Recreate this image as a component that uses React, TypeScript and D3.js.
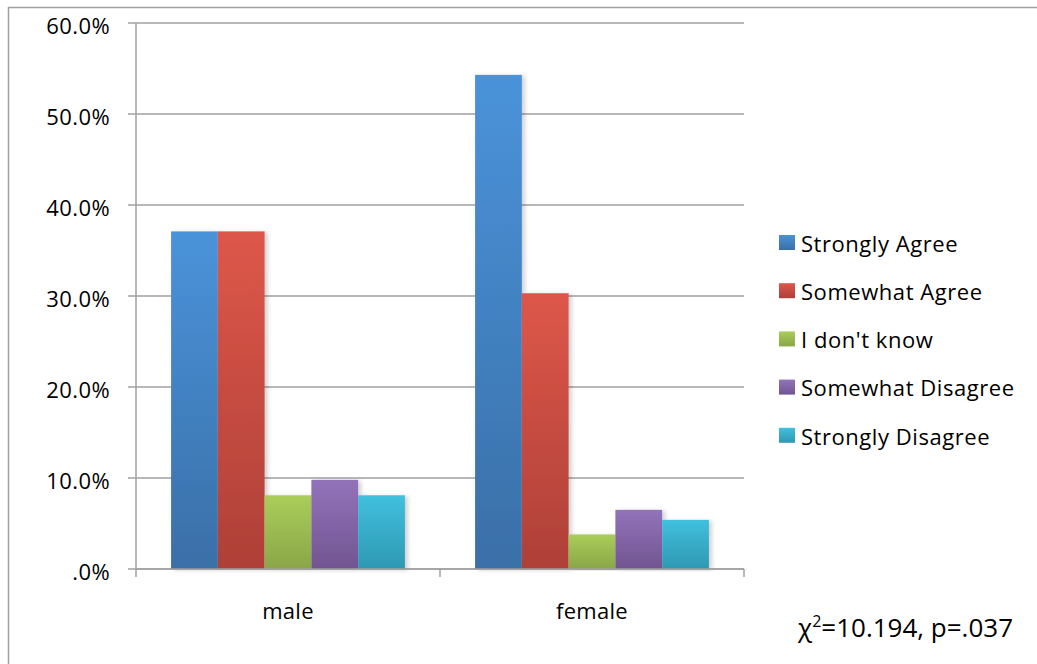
import React from "react";
import * as d3 from "d3";

const categories = ["male", "female"];
const seriesNames = ["Strongly Agree", "Somewhat Agree", "I don't know", "Somewhat Disagree", "Strongly Disagree"];
const maleValues = [37.1, 37.1, 8.1, 9.8, 8.1];
const femaleValues = [54.3, 30.3, 3.8, 6.5, 5.4];
const yTicks = [0, 10, 20, 30, 40, 50, 60];
const topColors = ["#4A93DA", "#DD5749", "#AACD5A", "#9273BA", "#40C0DE"];
const bottomColors = ["#3A6FA7", "#AE4038", "#8AA647", "#715591", "#2E98B2"];

const valuesByCategory = [maleValues, femaleValues];

const W = 1037;
const H = 664;
const plotLeft = 136;
const plotRight = 744;
const plotTop = 23;
const plotBottom = 569;
const FONT = "'Open Sans', Lato, sans-serif";

export default function App() {
  const y = d3.scaleLinear().domain([0, 60]).range([plotBottom, plotTop]);
  const x0 = d3.scaleBand().domain(categories).range([plotLeft, plotRight]).paddingInner(0).paddingOuter(0);
  const bw = x0.bandwidth() / (seriesNames.length + 1.5);
  const x1 = d3
    .scaleBand()
    .domain(seriesNames)
    .range([bw * 0.75, x0.bandwidth() - bw * 0.75])
    .padding(0);

  return (
    <svg width={W} height={H} style={{ position: "absolute", left: 0, top: 0 }}>
      <defs>
        {seriesNames.map((s, i) => (
          <linearGradient key={s} id={`g${i}`} x1="0" y1="0" x2="0" y2="1">
            <stop offset="0%" stopColor={topColors[i]} />
            <stop offset="100%" stopColor={bottomColors[i]} />
          </linearGradient>
        ))}
        <filter id="shadow" x="-20%" y="-5%" width="150%" height="110%">
          <feDropShadow dx="3" dy="1" stdDeviation="2" floodColor="#000" floodOpacity="0.18" />
        </filter>
      </defs>
      <rect x={0} y={0} width={W} height={H} fill="#fff" />
      {/* outer frame */}
      <line x1={8} y1={7.5} x2={W} y2={7.5} stroke="#a0a0a0" strokeWidth={1.5} />
      <line x1={8.5} y1={7} x2={8.5} y2={H} stroke="#a0a0a0" strokeWidth={1.5} />

      {/* gridlines */}
      {yTicks.map((t) => (
        <g key={t}>
          <line x1={plotLeft - 8} x2={plotRight} y1={y(t)} y2={y(t)} stroke="#a0a0a0" strokeWidth={1.5} />
          <text
            x={110}
            y={y(t) + 3}
            dy="0.35em"
            textAnchor="end"
            fontFamily={FONT}
            fontSize={22}
            letterSpacing={0.4}
            fill="#000"
          >
            {t === 0 ? ".0%" : `${t.toFixed(1)}%`}
          </text>
        </g>
      ))}
      {/* y axis */}
      <line x1={plotLeft} x2={plotLeft} y1={plotTop} y2={plotBottom + 8} stroke="#a0a0a0" strokeWidth={1.5} />
      {/* x category ticks */}
      {[plotLeft + x0.bandwidth(), plotRight].map((xx, i) => (
        <line key={i} x1={xx} x2={xx} y1={plotBottom} y2={plotBottom + 8} stroke="#a0a0a0" strokeWidth={1.5} />
      ))}

      {/* bars */}
      {categories.map((c, ci) => (
        <g key={c} transform={`translate(${x0(c)},0)`}>
          {seriesNames.map((s, si) => {
            const v = valuesByCategory[ci][si];
            return (
              <rect
                key={s}
                x={x1(s)}
                y={y(v)}
                width={x1.bandwidth()}
                height={y(0) - y(v)}
                fill={`url(#g${si})`}
                filter="url(#shadow)"
              />
            );
          })}
        </g>
      ))}
      {/* x axis line on top */}
      <line x1={plotLeft} x2={plotRight} y1={plotBottom} y2={plotBottom} stroke="#a0a0a0" strokeWidth={1.5} />

      {/* category labels */}
      {categories.map((c) => (
        <text
          key={c}
          x={(x0(c) as number) + x0.bandwidth() / 2}
          y={619}
          textAnchor="middle"
          fontFamily={FONT}
          fontSize={22}
          letterSpacing={0.3}
          fill="#000"
        >
          {c}
        </text>
      ))}

      {/* legend */}
      {seriesNames.map((s, i) => {
        const cy = 243 + i * 48.2;
        return (
          <g key={s}>
            <rect x={779} y={cy - 8} width={16} height={15} fill={`url(#g${i})`} />
            <text x={801} y={cy + 1} dy="0.35em" fontFamily={FONT} fontSize={22} letterSpacing={0.55} fill="#000">
              {s}
            </text>
          </g>
        );
      })}

      {/* chi-square annotation */}
      <text x={798} y={637} fontFamily={FONT} fontSize={26} fill="#000">
        χ<tspan dy="-10" fontSize={16}>2</tspan>
        <tspan dy="10">=10.194, p=.037</tspan>
      </text>
    </svg>
  );
}
